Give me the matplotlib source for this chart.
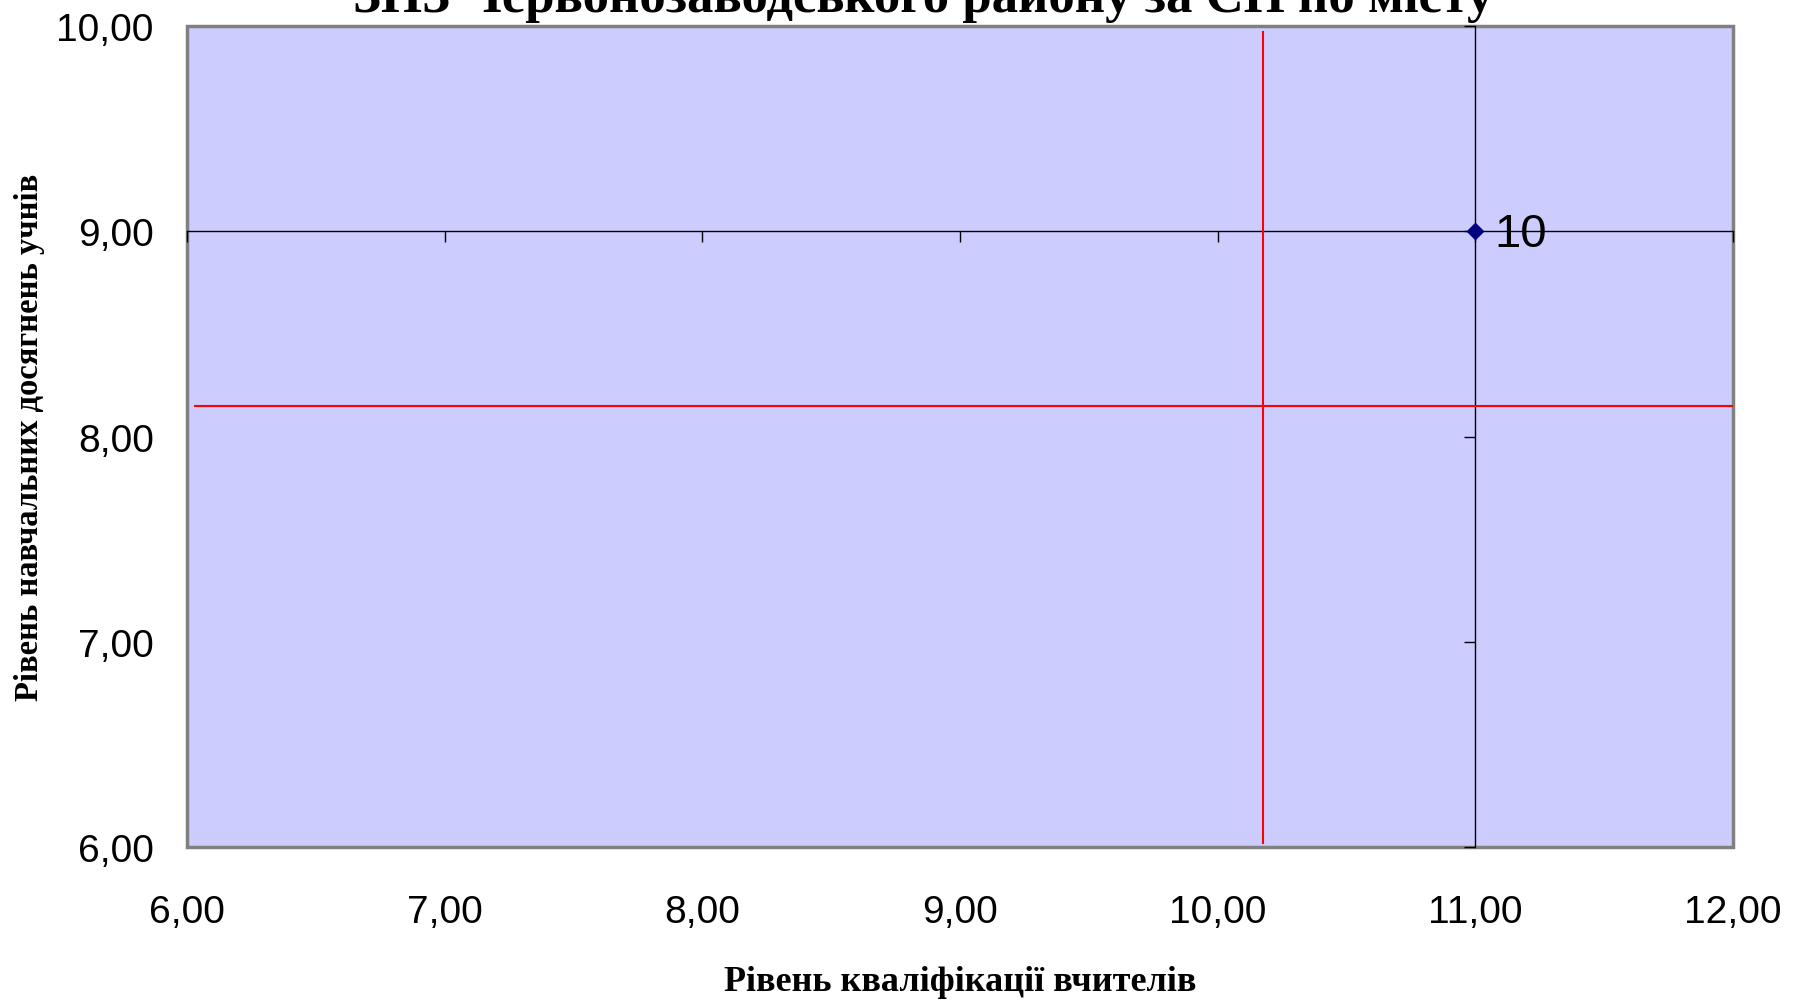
import numpy as np
import matplotlib
matplotlib.use("Agg")
import matplotlib.pyplot as plt


# Data
# -----------------------------------------------------------------------------------
school_ids = ["10"]
teacher_level = [11.00]      # Рівень кваліфікації вчителів
student_level = [9.00]       # Рівень навчальних досягнень учнів

city_avg_teacher = 10.175    # середнє по місту (вертикальна лінія)
city_avg_student = 8.15      # середнє по місту (горизонтальна лінія)
avg_v_span = [6.02, 9.97]    # межі вертикальної лінії по y
avg_h_span = [6.03, 12.00]   # межі горизонтальної лінії по x

x_ticks = [6, 7, 8, 9, 10, 11, 12]
y_ticks = [6, 7, 8, 9, 10]
x_cross = 11.0               # вісь Y перетинає X тут
y_cross = 9.0                # вісь X перетинає Y тут
# -----------------------------------------------------------------------------------


def fmt(v):
    return f"{v:.2f}".replace(".", ",")


fig = plt.figure(figsize=(18.04, 10.04), dpi=100)
ax = fig.add_axes([0.1037, 0.1554, 0.9606 - 0.1037, 0.9728 - 0.1554])
ax.set_xlim(6, 12)
ax.set_ylim(6, 10)

ax.patch.set_facecolor("#CCCCFF")
ax.patch.set_edgecolor("#808080")
ax.patch.set_linewidth(2.5)

# axes crossing inside the plot
ax.spines["left"].set_visible(False)
ax.spines["bottom"].set_visible(False)
ax.spines["right"].set_position(("data", x_cross))
ax.spines["top"].set_position(("data", y_cross))
for s in ("right", "top"):
    ax.spines[s].set_color("black")
    ax.spines[s].set_linewidth(1.0)

ax.set_xticks(x_ticks)
ax.set_yticks(y_ticks)
ax.set_xticklabels([fmt(v) for v in x_ticks], fontname="Liberation Sans")
ax.set_yticklabels([fmt(v) for v in y_ticks], fontname="Liberation Sans")
ax.tick_params(axis="x", bottom=True, top=True, labelbottom=True, labeltop=False,
               direction="in", length=8, width=1, labelsize=28, pad=34)
ax.tick_params(axis="y", left=True, right=True, labelleft=True, labelright=False,
               direction="in", length=8, width=1, labelsize=28, pad=24)
for t in ax.xaxis.get_major_ticks():
    t.tick1line.set_visible(False)
for t in ax.yaxis.get_major_ticks():
    t.tick1line.set_visible(False)

# city average lines
ax.plot([city_avg_teacher, city_avg_teacher], avg_v_span, color="red", lw=1.5, zorder=3)
ax.plot(avg_h_span, [city_avg_student, city_avg_student], color="red", lw=1.5, zorder=3)

# school point
ax.plot(teacher_level, student_level, linestyle="none", marker="D", ms=8,
        color="#000080", zorder=4, clip_on=False)
for x, y, lab in zip(teacher_level, student_level, school_ids):
    ax.annotate(lab, (x, y), xytext=(14, -2), textcoords="offset points",
                va="center", ha="left", fontsize=34, fontname="Liberation Sans")

ax.set_xlabel("Рівень кваліфікації вчителів", fontname="Liberation Serif",
              fontweight="bold", fontsize=26)
ax.xaxis.set_label_coords(0.5, -(983 - 848) / 820.7)
ax.xaxis.label.set_va("center")
ax.set_ylabel("Рівень навчальних досягнень учнів", fontname="Liberation Serif",
              fontweight="bold", fontsize=23.5)
ax.yaxis.set_label_coords(-(187 - 29) / 1546, 0.5)
ax.yaxis.label.set_va("center")

fig.text(0.512, 1 - 12 / 1004, "ЗНЗ Червонозаводського району за СН по місту",
         ha="center", va="baseline", fontsize=38, fontweight="bold",
         fontname="Liberation Serif")

fig.savefig("out.png", dpi=100)
